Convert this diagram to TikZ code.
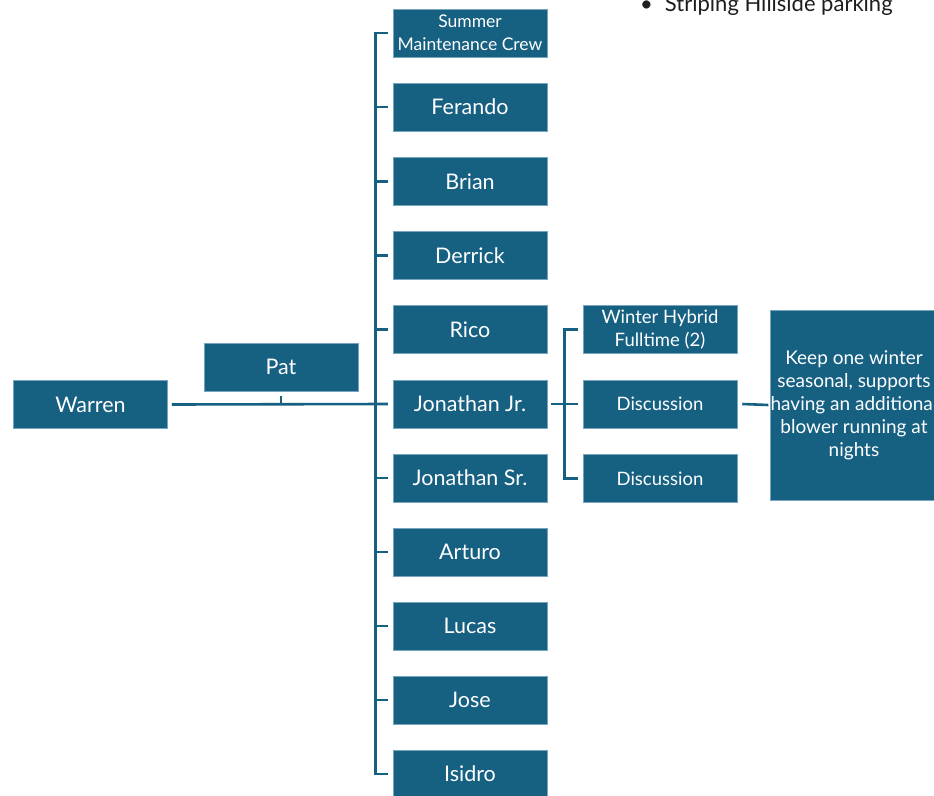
\documentclass[tikz,border=0pt]{standalone}
\usepackage{fontspec}
\setmainfont{Lato}
\definecolor{boxc}{RGB}{22,96,130}
\definecolor{edgec}{RGB}{120,165,190}
\definecolor{txtc}{RGB}{30,30,30}
\begin{document}
\begin{tikzpicture}[x=1pt,y=-1pt,
  box/.style={fill=boxc, draw=edgec, line width=0.5pt, text=white, inner sep=0pt, align=center,
    minimum width=154pt, minimum height=48pt, font=\fontsize{21.5}{23}\selectfont},
  smallbox/.style={box, font=\fontsize{18.5}{23}\selectfont},
  ln/.style={draw=boxc, line width=2.6pt},
  thinln/.style={draw=boxc, line width=2pt}]
\useasboundingbox (0,0) rectangle (934,795);

\node[box] (warren) at (90.5,404.5) {Warren};
\node[box] (pat) at (281,367) {Pat};

\node[smallbox, font=\fontsize{17.5}{23}\selectfont] (summer) at (470,33) {Summer\\Maintenance Crew};
\node[box] (ferando) at (470,107) {Ferando};
\node[box] (brian) at (470,181.5) {Brian};
\node[box] (derrick) at (470,255.5) {Derrick};
\node[box] (rico) at (470,329.5) {Rico};
\node[box] (jjr) at (470,404) {Jonathan Jr.};
\node[box] (jsr) at (470,478) {Jonathan Sr.};
\node[box] (arturo) at (470,552) {Arturo};
\node[box] (lucas) at (470,626) {Lucas};
\node[box] (jose) at (470,700) {Jose};
\node[box] (isidro) at (470,774) {Isidro};

\node[smallbox] (winter) at (660,329.5) {Winter Hybrid\\Fulltime (2)};
\node[smallbox] (disc1) at (660,404) {Discussion};
\node[smallbox] (disc2) at (660,478.5) {Discussion};

\node[smallbox, minimum width=164pt, minimum height=190pt, font=\fontsize{19}{23}\selectfont] (big) at (854,405)
  {Keep one winter\\seasonal, supports\\having an additional\\blower running at\\nights};

\node[anchor=base west, text=txtc, inner sep=0pt, font=\fontsize{22}{24}\selectfont] (note) at (640,11)
  {\textbullet\hspace{12pt}Striping Hillside parking};

% main spine
\draw[ln] ([xshift=-5pt]summer.west) -| ([xshift=-17pt]isidro.west) -- ([xshift=-5pt]isidro.west);
\foreach \n in {ferando,brian,derrick,rico,jsr,arturo,lucas,jose}
  \draw[ln] ([xshift=-17pt]\n.west) -- ([xshift=-5pt]\n.west);
\draw[ln] ([xshift=4pt]warren.east) -- ([xshift=-5pt]jjr.west);
\draw[thinln] ([yshift=-5pt]pat.south) -- ([yshift=-12pt]pat.south);

% second spine
\draw[ln] ([xshift=-5pt]winter.west) -| ([xshift=-18pt]disc2.west) -- ([xshift=-5pt]disc2.west);
\draw[ln] ([xshift=4pt]jjr.east) -- ([xshift=-5pt]disc1.west);
\draw[ln] ([xshift=5pt]disc1.east) -- ([xshift=-2pt]big.west);
\end{tikzpicture}
\end{document}
